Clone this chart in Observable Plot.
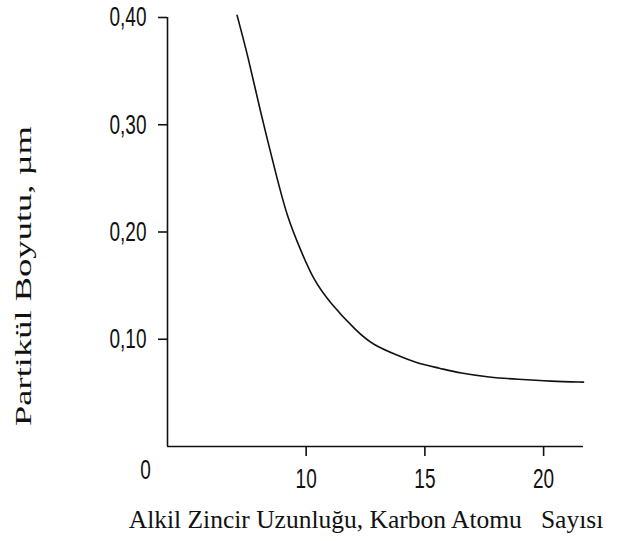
<!DOCTYPE html>
<html>
<head>
<meta charset="utf-8">
<script src="https://cdn.jsdelivr.net/npm/d3@7"></script>
<script src="https://cdn.jsdelivr.net/npm/@observablehq/plot@0.6"></script>
<style>
  html, body { margin: 0; padding: 0; background: #fff; }
  svg text { white-space: pre; }
</style>
</head>
<body>
<div id="chart"></div>
<script>
// Data
const carbonAtoms  = [7.09, 7.56, 8.03, 8.77, 9.23, 9.75, 10.29, 11.0, 12.14, 12.82, 13.82, 14.66, 15.63, 16.47, 17.73, 18.87, 20.34, 21.68];
const particleSize = [0.402, 0.363, 0.316, 0.250, 0.212, 0.184, 0.156, 0.134, 0.107, 0.0946, 0.0852, 0.0777, 0.0730, 0.0683, 0.0645, 0.0627, 0.0608, 0.0600];
const xTicks = [10, 15, 20];
const yTicks = [0.10, 0.20, 0.30, 0.40];
const originLabel = ["0"];
const xDomain = [4.16, 21.68];
const yDomain = [0, 0.40];
const xTitle = "Alkil Zincir Uzunluğu, Karbon Atomu   Sayısı";
const yTitle = "Partikül Boyutu, µm";

const data = carbonAtoms.map((x, i) => ({x, y: particleSize[i]}));
const tickFont = "Liberation Sans, Arial, sans-serif";
const titleFont = "Liberation Serif, Times New Roman, serif";
const ink = "#111";

const chart = Plot.plot({
  width: 627,
  height: 541,
  marginLeft: 167,
  marginRight: 44,
  marginTop: 17,
  marginBottom: 95,
  style: {background: "#fff", color: ink, overflow: "visible"},
  x: {domain: xDomain},
  y: {domain: yDomain},
  marks: [
    Plot.ruleX([xDomain[0]], {y1: yDomain[0], y2: yDomain[1], stroke: ink, strokeWidth: 1.6}),
    Plot.ruleY([yDomain[0]], {x1: xDomain[0], x2: xDomain[1], stroke: ink, strokeWidth: 1.6}),
    Plot.axisY(yTicks, {
      tickSize: 9, tickPadding: 12, strokeWidth: 1.6,
      tickFormat: d => d.toFixed(2).replace(".", ","),
      fontSize: 19, fontFamily: tickFont, label: null
    }),
    Plot.axisX(xTicks, {
      tickSize: 10, tickPadding: 12, strokeWidth: 1.6,
      fontSize: 19, fontFamily: tickFont, label: null
    }),
    Plot.text(originLabel, {x: xDomain[0], y: yDomain[0], text: d => d, dx: -22, dy: 24,
      fontSize: 19, fontFamily: tickFont, fill: ink}),
    Plot.line(data, {x: "x", y: "y", curve: "basis", stroke: ink, strokeWidth: 1.6}),
    Plot.text([yTitle], {frameAnchor: "left", text: d => d, rotate: -90, textAnchor: "start",
      dx: -144, dy: 194, fontSize: 24, fontFamily: titleFont, fill: ink}),
    Plot.text([xTitle], {frameAnchor: "bottom", text: d => d, dx: -9.5, dy: 81,
      fontSize: 25.5, fontFamily: titleFont, fill: ink})
  ]
});
document.getElementById("chart").appendChild(chart);

// Tick labels in the reference are tall and narrow: stretch them vertically
const stretch = (t) => {
  const tr = t.getAttribute("transform") || "";
  t.setAttribute("transform", tr + " scale(1,1.45)");
};
chart.querySelectorAll('g[aria-label="y-axis tick label"] text').forEach(stretch);
chart.querySelectorAll('g[aria-label="x-axis tick label"] text').forEach(stretch);
chart.querySelectorAll('g[aria-label="text"] text').forEach(t => {
  if (t.textContent === "0") stretch(t);
  if (t.textContent === yTitle) {
    t.setAttribute("textLength", "300");
    t.setAttribute("lengthAdjust", "spacingAndGlyphs");
  }
});
</script>
</body>
</html>
